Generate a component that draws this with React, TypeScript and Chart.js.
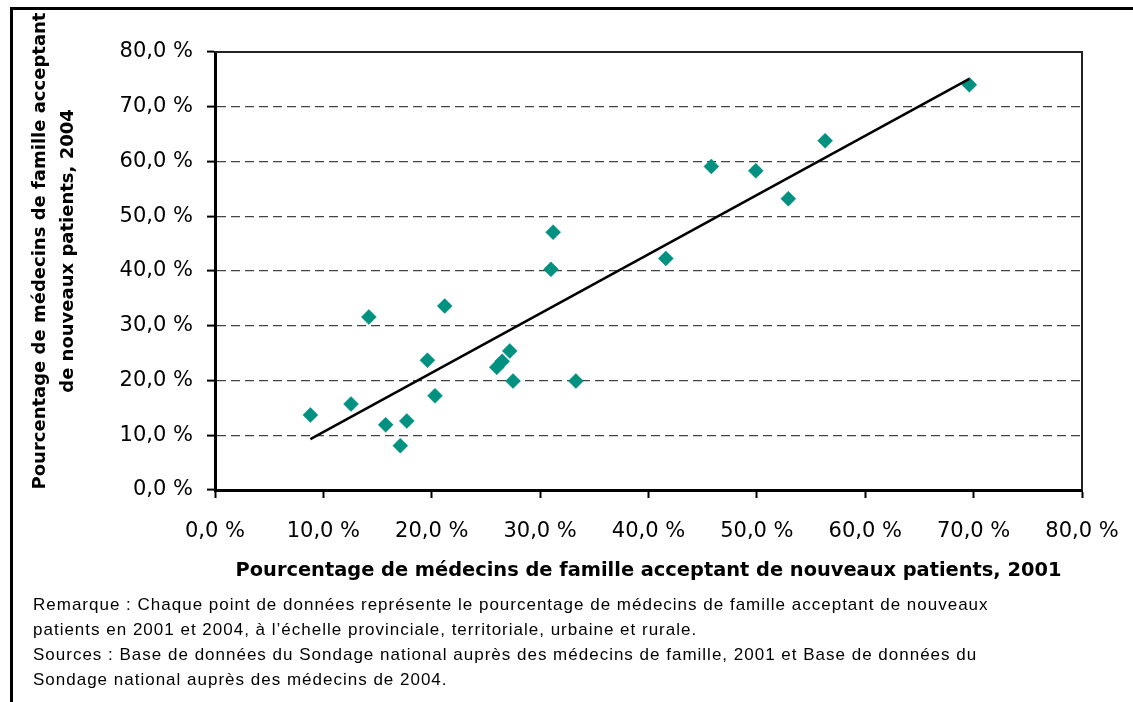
import React, { useEffect, useRef } from 'react';
import { Chart, registerables } from 'chart.js';

Chart.register(...registerables);

// Percentage of family physicians accepting new patients
const pct2001 = [8.8, 12.55, 14.2, 15.75, 17.1, 17.7, 19.6, 20.3, 21.2, 26.0, 26.5, 27.2, 27.5, 33.3, 31.0, 31.2, 41.6, 45.8, 49.9, 52.9, 56.3, 69.6];
const pct2004 = [13.7, 15.7, 31.6, 11.9, 8.1, 12.6, 23.7, 17.2, 33.6, 22.4, 23.5, 25.4, 19.9, 19.9, 40.3, 47.1, 42.3, 59.1, 58.3, 53.2, 63.8, 74.0];

// Linear trend line end points
const trendX = [8.8, 69.6];
const trendY = [9.3, 75.1];

const tickValues = [0, 10, 20, 30, 40, 50, 60, 70, 80];
const tickLabels = ['0,0 %', '10,0 %', '20,0 %', '30,0 %', '40,0 %', '50,0 %', '60,0 %', '70,0 %', '80,0 %'];

const xTitle = 'Pourcentage de médecins de famille acceptant de nouveaux patients, 2001';
const yTitle = ['Pourcentage de médecins de famille acceptant', 'de nouveaux patients, 2004'];

const notes = [
  'Remarque : Chaque point de données représente le pourcentage de médecins de famille acceptant de nouveaux',
  'patients en 2001 et 2004, à l\u2019échelle provinciale, territoriale, urbaine et rurale.',
  'Sources : Base de données du Sondage national auprès des médecins de famille, 2001 et Base de données du',
  'Sondage national auprès des médecins de 2004.',
];

const TEAL = 'rgb(0,145,128)';

function labelFor(v: number): string {
  const i = tickValues.indexOf(Math.round(v));
  return i >= 0 ? tickLabels[i] : '';
}

const framePlugin = {
  id: 'framePlugin',
  afterDraw(chart: any) {
    const { ctx, chartArea } = chart;
    ctx.save();
    ctx.strokeStyle = '#222';
    ctx.lineWidth = 2;
    ctx.beginPath();
    ctx.moveTo(chartArea.left, chartArea.top);
    ctx.lineTo(chartArea.right, chartArea.top);
    ctx.lineTo(chartArea.right, chartArea.bottom);
    ctx.stroke();
    // y axis title (two lines, rotated)
    ctx.fillStyle = '#000';
    ctx.font = 'bold 18px "DejaVu Sans"';
    ctx.textAlign = 'center';
    ctx.textBaseline = 'middle';
    const xs = [40, 68];
    yTitle.forEach((line, i) => {
      ctx.save();
      ctx.translate(xs[i], 251);
      ctx.rotate(-Math.PI / 2);
      ctx.fillText(line, 0, 0);
      ctx.restore();
    });
    ctx.restore();
  },
};

export default function App() {
  const canvasRef = useRef<HTMLCanvasElement | null>(null);

  useEffect(() => {
    if (!canvasRef.current) return;
    const points = pct2001.map((x, i) => ({ x, y: pct2004[i] }));
    const trend = trendX.map((x, i) => ({ x, y: trendY[i] }));
    const chart = new Chart(canvasRef.current, {
      type: 'scatter',
      data: {
        datasets: [
          {
            label: 'Tendance',
            data: trend,
            showLine: true,
            borderColor: '#000',
            borderWidth: 2.5,
            pointRadius: 0,
            fill: false,
          } as any,
          {
            label: 'Points',
            data: points,
            pointStyle: 'rectRot',
            pointRadius: 7.5,
            pointBackgroundColor: TEAL,
            pointBorderColor: TEAL,
            pointBorderWidth: 0.5,
            showLine: false,
          } as any,
        ],
      },
      options: {
        animation: false,
        responsive: true,
        maintainAspectRatio: false,
        devicePixelRatio: 1,
        layout: { padding: { left: 0, top: 52, right: 88, bottom: 0 } },
        plugins: {
          legend: { display: false },
          tooltip: { enabled: false },
        },
        scales: {
          x: {
            type: 'linear',
            min: 0,
            max: 80,
            afterFit: (s: any) => { s.height = 110; },
            afterBuildTicks: (s: any) => { s.ticks = tickValues.map((v) => ({ value: v })); },
            ticks: {
              stepSize: 10,
              color: '#000',
              padding: 21,
              maxRotation: 0,
              font: { family: '"DejaVu Sans"', size: 21 },
              callback: (v: any) => labelFor(Number(v)),
            },
            grid: {
              drawOnChartArea: false,
              drawTicks: true,
              tickLength: 8,
              tickColor: '#000',
              tickWidth: 2,
            },
            border: { display: true, color: '#000', width: 3 },
            title: {
              display: true,
              text: xTitle,
              color: '#000',
              font: { family: '"DejaVu Sans"', size: 19.4, weight: 'bold' },
              padding: { top: 0, bottom: 17 },
            },
          },
          y: {
            type: 'linear',
            min: 0,
            max: 80,
            afterFit: (s: any) => { s.width = 215; },
            afterBuildTicks: (s: any) => { s.ticks = tickValues.map((v) => ({ value: v })); },
            ticks: {
              stepSize: 10,
              color: '#000',
              padding: 14,
              font: { family: '"DejaVu Sans"', size: 21 },
              callback: (v: any) => labelFor(Number(v)),
            },
            grid: {
              drawOnChartArea: true,
              drawTicks: true,
              tickLength: 8,
              tickColor: '#000',
              tickWidth: 2,
              lineWidth: 1.2,
              color: (c: any) => (c.tick && (c.tick.value === 0 || c.tick.value === 80) ? 'rgba(0,0,0,0)' : '#444'),
            },
            border: { display: true, color: '#000', width: 3, dash: [9, 5] },
          },
        },
      },
      plugins: [framePlugin],
    });
    return () => chart.destroy();
  }, []);

  return (
    <div style={{ position: 'absolute', left: 0, top: 0, width: 1133, height: 702, overflow: 'hidden', background: '#fff' }}>
      <div style={{ position: 'absolute', left: 10, top: 7, width: 1200, height: 800, borderLeft: '3px solid #000', borderTop: '3px solid #000' }} />
      <div style={{ position: 'absolute', left: 0, top: 0, width: 1170, height: 600 }}>
        <canvas ref={canvasRef} />
      </div>
      <div
        style={{
          position: 'absolute',
          left: 33,
          top: 592,
          fontFamily: '"Liberation Sans", Arial, sans-serif',
          fontSize: 17,
          letterSpacing: '1px',
          lineHeight: '25px',
          color: '#000',
          whiteSpace: 'nowrap',
        }}
      >
        {notes.map((n, i) => (
          <div key={i}>{n}</div>
        ))}
      </div>
    </div>
  );
}
